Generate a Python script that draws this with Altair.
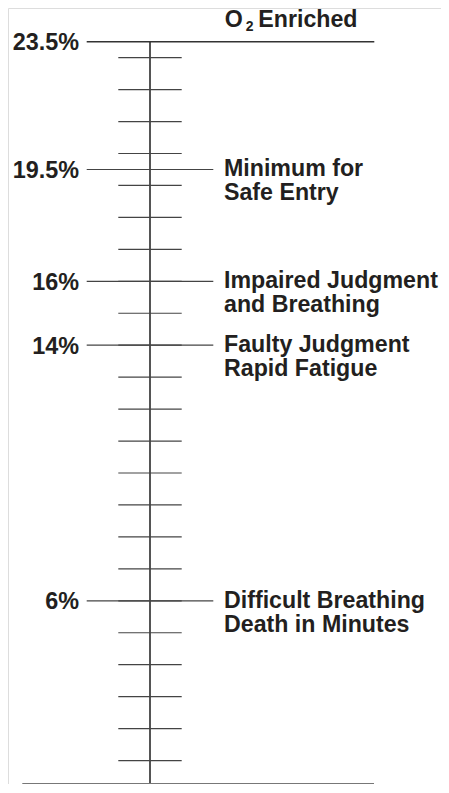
import altair as alt
import pandas as pd

# ---- data ----
minor_ticks = list(range(1, 24))            # oxygen % at every whole step
scale_min = 0
scale_max = 23.5
top_level = 23.5
top_left_label = "23.5%"
top_parts = ["O", "2", "Enriched"]          # O₂ Enriched (2 as subscript)
levels = [19.5, 16, 14, 6]
left_labels = ["19.5%", "16%", "14%", "6%"]
right_line1 = ["Minimum for", "Impaired Judgment", "Faulty Judgment", "Difficult Breathing"]
right_line2 = ["Safe Entry", "and Breathing", "Rapid Fatigue", "Death in Minutes"]

# ---- tables ----
ticks_df = pd.DataFrame({"v": minor_ticks})
levels_df = pd.DataFrame({"v": levels, "left": left_labels, "l1": right_line1, "l2": right_line2})
top_df = pd.DataFrame({"v": [top_level], "left": [top_left_label],
                       "o": [top_parts[0]], "sub": [top_parts[1]], "rest": [top_parts[2]]})
axis_df = pd.DataFrame({"v": [scale_min], "v2": [scale_max]})

Y = alt.Scale(domain=[scale_min, scale_max], range=[784.5, 33.7])
FONT = "Liberation Sans"
TXT = "#231f20"
FS = 23.2

def yenc(field="v"):
    return alt.Y(f"{field}:Q", scale=Y, axis=None)

vline = alt.Chart(axis_df).mark_rule(color="#555555", strokeWidth=2).encode(
    x=alt.value(142), y=yenc("v"), y2="v2:Q")

bottom = alt.Chart(axis_df).mark_rule(color="#777777", strokeWidth=1.2).encode(
    x=alt.value(14.3), x2=alt.value(366), y=alt.value(775.5))

minor = alt.Chart(ticks_df).mark_rule(color="#444444", strokeWidth=1.2).encode(
    x=alt.value(110.3), x2=alt.value(173.7), y=yenc())

major = alt.Chart(levels_df).mark_rule(color="#444444", strokeWidth=1.2).encode(
    x=alt.value(78.7), x2=alt.value(205.3), y=yenc())

top_rule = alt.Chart(top_df).mark_rule(color="#333333", strokeWidth=1.4).encode(
    x=alt.value(78.7), x2=alt.value(366.3), y=yenc())

def text_layer(df, field, x, dy, align="left", size=FS):
    return alt.Chart(df).mark_text(
        font=FONT, fontWeight="bold", fontSize=size, color=TXT,
        align=align, baseline="alphabetic", dy=dy
    ).encode(x=alt.value(x), y=yenc(), text=f"{field}:N")

left_txt = text_layer(levels_df, "left", 71, 8.5, align="right", size=23.4)
top_left_txt = text_layer(top_df, "left", 71, 8.5, align="right", size=23.4)
r1 = text_layer(levels_df, "l1", 216, 7)
r2 = text_layer(levels_df, "l2", 216, 31)
o_txt = text_layer(top_df, "o", 216.8, -14.5)
sub_txt = text_layer(top_df, "sub", 237.7, -10.5, size=14)
rest_txt = text_layer(top_df, "rest", 250.3, -14.5)

chart = alt.layer(
    vline, bottom, minor, major, top_rule,
    left_txt, top_left_txt, r1, r2, o_txt, sub_txt, rest_txt
).properties(
    width=433, height=776, padding=0, autosize=alt.AutoSizeParams(type="none")
).configure_view(stroke=None).configure(background="white")

chart.save("out.html", embed_options={"renderer": "svg", "actions": False})
